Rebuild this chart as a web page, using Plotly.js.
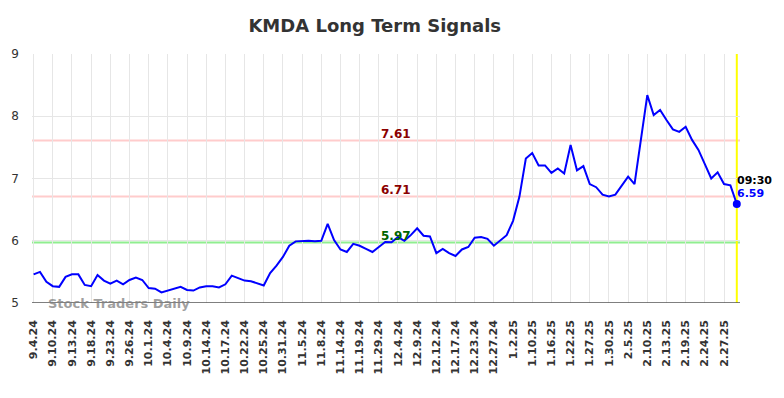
<!DOCTYPE html>
<html>
<head>
<meta charset="utf-8">
<script src="https://cdn.plot.ly/plotly-3.0.1.min.js"></script>
<style>html,body{margin:0;padding:0;background:#fff;}#chart{width:784px;height:398px;}</style>
</head>
<body>
<div id="chart"></div>
<script>
const dates = [
"9.4.24","9.5.24","9.9.24","9.10.24","9.11.24","9.12.24","9.13.24","9.16.24","9.17.24","9.18.24",
"9.19.24","9.20.24","9.23.24","9.24.24","9.25.24","9.26.24","9.27.24","9.30.24","10.1.24","10.2.24",
"10.3.24","10.4.24","10.7.24","10.8.24","10.9.24","10.10.24","10.11.24","10.14.24","10.15.24","10.16.24",
"10.17.24","10.18.24","10.21.24","10.22.24","10.23.24","10.24.24","10.25.24","10.28.24","10.30.24","10.31.24",
"11.1.24","11.4.24","11.5.24","11.6.24","11.7.24","11.8.24","11.11.24","11.13.24","11.14.24","11.15.24",
"11.18.24","11.19.24","11.22.24","11.26.24","11.29.24","12.2.24","12.3.24","12.4.24","12.5.24","12.6.24",
"12.9.24","12.10.24","12.11.24","12.12.24","12.13.24","12.16.24","12.17.24","12.18.24","12.20.24","12.23.24",
"12.24.24","12.26.24","12.27.24","12.30.24","12.31.24","1.2.25","1.3.25","1.7.25","1.10.25","1.13.25",
"1.15.25","1.16.25","1.17.25","1.21.25","1.22.25","1.23.25","1.24.25","1.27.25","1.28.25","1.29.25",
"1.30.25","1.31.25","2.4.25","2.5.25","2.6.25","2.7.25","2.10.25","2.11.25","2.12.25","2.13.25",
"2.14.25","2.18.25","2.19.25","2.20.25","2.21.25","2.24.25","2.25.25","2.26.25","2.27.25","2.28.25",
"3.3.25"
];
const prices = [
5.46,5.50,5.34,5.27,5.26,5.42,5.46,5.46,5.29,5.27,
5.45,5.36,5.31,5.36,5.30,5.37,5.41,5.37,5.24,5.23,
5.17,5.20,5.24,5.26,5.21,5.20,5.25,5.27,5.27,5.25,
5.30,5.44,5.40,5.36,5.35,5.32,5.28,5.48,5.60,5.74,
5.92,5.99,6.00,6.00,5.99,6.00,6.27,6.01,5.86,5.82,
5.95,5.92,5.87,5.82,5.90,5.98,5.975,6.06,6.00,6.09,
6.20,6.08,6.07,5.80,5.87,5.80,5.755,5.86,5.90,6.05,
6.06,6.03,5.92,6.00,6.09,6.32,6.71,7.32,7.41,7.21,
7.21,7.09,7.16,7.08,7.54,7.13,7.20,6.91,6.86,6.74,
6.71,6.74,6.89,7.03,6.91,7.65,8.34,8.02,8.10,7.94,
7.79,7.75,7.83,7.62,7.46,7.23,7.00,7.10,6.91,6.89,
6.59
];
const signalLevels = [7.61, 6.71, 5.97];
const signalColors = ["#ffcccc", "#ffcccc", "#90ee90"];
const signalTextColors = ["#8b0000", "#8b0000", "#006400"];
const yTicks = [5, 6, 7, 8, 9];
const lastTime = "09:30";

const tickDates = dates.filter((d, i) => i % 3 === 0);
const lastDate = dates[dates.length - 1];
const lastPrice = prices[prices.length - 1];

const traces = [
  {x: dates, y: prices, type: "scatter", mode: "lines",
   line: {color: "#0000ff", width: 2}, hoverinfo: "skip"},
  {x: [lastDate], y: [lastPrice], type: "scatter", mode: "markers", cliponaxis: false,
   marker: {color: "#0000ff", size: 8}, hoverinfo: "skip"}
];

const shapes = signalLevels.map((v, i) => ({
  type: "line", xref: "paper", x0: 0, x1: 1, yref: "y", y0: v, y1: v,
  line: {color: signalColors[i], width: 2}, layer: "below"
}));
shapes.push({type: "line", xref: "x", x0: lastDate, x1: lastDate, yref: "paper", y0: 0, y1: 1,
  line: {color: "#ffff00", width: 2}, layer: "below"});
shapes.push({type: "line", xref: "paper", x0: 0, x1: 1, yref: "y", y0: 5, y1: 5,
  line: {color: "#555555", width: 1.5}});

const annotations = signalLevels.map((v, i) => ({
  xref: "paper", x: 0.514, yref: "y", y: v, yanchor: "bottom", xanchor: "center",
  text: "<b>" + v.toFixed(2) + "</b>", showarrow: false, yshift: -2,
  font: {family: "DejaVu Sans", size: 12, color: signalTextColors[i]}
}));
annotations.push({xref: "x", x: lastDate, yref: "y", y: lastPrice, xanchor: "left", yanchor: "bottom",
  text: "<b>" + lastTime + "</b>", showarrow: false, xshift: -2, yshift: 15,
  font: {family: "DejaVu Sans", size: 11, color: "#000000"}});
annotations.push({xref: "x", x: lastDate, yref: "y", y: lastPrice, xanchor: "left", yanchor: "bottom",
  text: "<b>" + lastPrice.toFixed(2) + "</b>", showarrow: false, xshift: -2, yshift: 2,
  font: {family: "DejaVu Sans", size: 11, color: "#0000ff"}});
annotations.push({xref: "paper", x: 0.02, yref: "y", y: 5, xanchor: "left", yanchor: "middle",
  text: "<b>Stock Traders Daily</b>", showarrow: false,
  font: {family: "DejaVu Sans", size: 13, color: "rgba(128,128,128,0.75)"}});

const layout = {
  width: 784, height: 398,
  margin: {l: 32, r: 44, t: 54, b: 95},
  paper_bgcolor: "#ffffff", plot_bgcolor: "#ffffff",
  showlegend: false,
  title: {text: "<b>KMDA Long Term Signals</b>", x: 0.478, xanchor: "center",
    y: 1 - 26 / 398, yanchor: "middle",
    font: {family: "DejaVu Sans", size: 18, color: "#333333"}},
  xaxis: {type: "category", range: [-0.25, 110.5], tickmode: "array",
    tickvals: tickDates, ticktext: tickDates, tickangle: -90,
    showgrid: true, gridcolor: "#e6e6e6", gridwidth: 1,
    showline: false, zeroline: false, ticks: "", ticklabelstandoff: 14,
    tickfont: {family: "DejaVu Sans", size: 11, color: "#333333", weight: "bold"}},
  yaxis: {range: [5, 9], tickvals: yTicks, showgrid: true, gridcolor: "#e6e6e6",
    zeroline: false, showline: false, ticks: "", ticklabelstandoff: 12,
    tickfont: {family: "DejaVu Sans", size: 12, color: "#333333"}},
  shapes: shapes,
  annotations: annotations
};

Plotly.newPlot("chart", traces, layout, {staticPlot: true, displayModeBar: false});
</script>
</body>
</html>
